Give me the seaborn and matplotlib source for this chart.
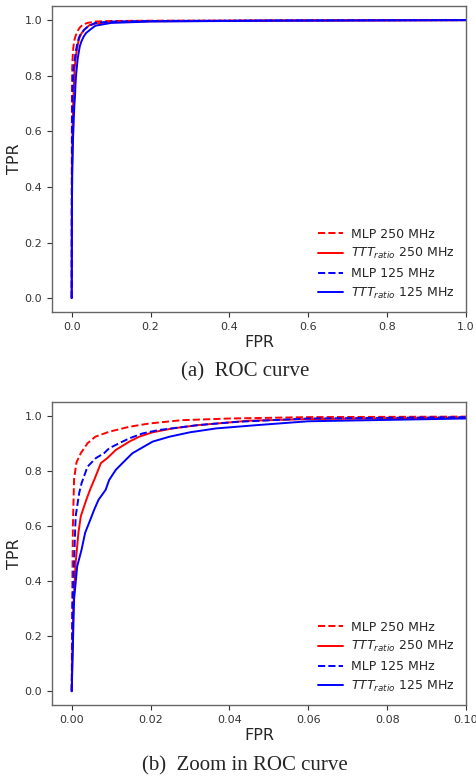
import numpy as np
import pandas as pd
import matplotlib
matplotlib.use('Agg')
import matplotlib.pyplot as plt
import seaborn as sns

sns.set_style('ticks')

# ROC points (FPR, TPR)
mlp250_fpr = [0, 0.0001, 0.0003, 0.0006, 0.0012, 0.0023, 0.004, 0.006, 0.0095, 0.0146, 0.0197, 0.028, 0.04, 0.06, 0.1, 0.2, 0.5, 1.0]
mlp250_tpr = [0, 0.30, 0.60, 0.77, 0.83, 0.864, 0.90, 0.924, 0.942, 0.96, 0.972, 0.984, 0.99, 0.995, 0.997, 0.998, 0.999, 1.0]

ttt250_fpr = [0, 0.0004, 0.001, 0.0017, 0.0023, 0.0037, 0.0048, 0.0057, 0.0074, 0.009, 0.0112, 0.0146, 0.0171, 0.0205, 0.0256, 0.032, 0.045, 0.06, 0.1, 0.2, 0.5, 1.0]
ttt250_tpr = [0, 0.30, 0.466, 0.575, 0.635, 0.695, 0.737, 0.767, 0.828, 0.846, 0.876, 0.906, 0.924, 0.94, 0.954, 0.966, 0.982, 0.988, 0.993, 0.996, 0.998, 1.0]

mlp125_fpr = [0, 0.0003, 0.001, 0.0019, 0.0025, 0.004, 0.0061, 0.0082, 0.0095, 0.012, 0.0146, 0.018, 0.022, 0.032, 0.042, 0.06, 0.1, 0.2, 0.5, 1.0]
mlp125_tpr = [0, 0.35, 0.635, 0.72, 0.755, 0.815, 0.846, 0.864, 0.882, 0.90, 0.918, 0.936, 0.948, 0.966, 0.978, 0.99, 0.995, 0.997, 0.999, 1.0]

ttt125_fpr = [0, 0.0006, 0.0014, 0.0025, 0.0034, 0.0044, 0.0057, 0.0068, 0.0086, 0.0095, 0.0112, 0.0137, 0.0154, 0.0205, 0.0248, 0.03, 0.0366, 0.047, 0.06, 0.1, 0.2, 0.5, 1.0]
ttt125_tpr = [0, 0.334, 0.454, 0.514, 0.575, 0.611, 0.659, 0.695, 0.731, 0.767, 0.804, 0.84, 0.864, 0.906, 0.924, 0.94, 0.954, 0.966, 0.98, 0.99, 0.995, 0.998, 1.0]

curves = [
    (mlp250_fpr, mlp250_tpr, 'red', '--', 'MLP 250 MHz'),
    (ttt250_fpr, ttt250_tpr, 'red', '-', r'$TTT_{ratio}$ 250 MHz'),
    (mlp125_fpr, mlp125_tpr, 'blue', '--', 'MLP 125 MHz'),
    (ttt125_fpr, ttt125_tpr, 'blue', '-', r'$TTT_{ratio}$ 125 MHz'),
]

fig = plt.figure(figsize=(4.77, 7.81), dpi=100)
ax1 = fig.add_axes([0.109, 0.6005, 0.868, 0.3915])
ax2 = fig.add_axes([0.109, 0.0973, 0.868, 0.3880])

for ax, xmax in [(ax1, 1.0), (ax2, 0.1)]:
    for fpr, tpr, col, ls, lab in curves:
        df = pd.DataFrame({'FPR': fpr, 'TPR': tpr})
        sns.lineplot(data=df, x='FPR', y='TPR', ax=ax, color=col, linestyle=ls,
                     label=lab, sort=False, estimator=None, linewidth=1.4)
    ax.set_xlim(-0.05 * xmax, xmax)
    ax.set_ylim(-0.05, 1.05)
    ax.set_xlabel('FPR', fontsize=11.5, labelpad=2)
    ax.set_ylabel('TPR', fontsize=11.5, labelpad=2)
    ax.tick_params(labelsize=8, length=3.5, width=0.8, colors='#333333')
    for s in ax.spines.values():
        s.set_color('#666666')
        s.set_linewidth(1.0)
    ax.legend(loc='lower right', frameon=False, fontsize=9, handlelength=2.0,
              labelspacing=0.45, borderaxespad=0.5, handletextpad=0.7)

ax1.set_xticks([0.0, 0.2, 0.4, 0.6, 0.8, 1.0])
ax2.set_xticks([0.0, 0.02, 0.04, 0.06, 0.08, 0.10])
ax2.set_xticklabels(['0.00', '0.02', '0.04', '0.06', '0.08', '0.10'])

fig.text(0.514, 1 - 372 / 781, '(a)  ROC curve', ha='center', va='center',
         fontsize=15, family='Liberation Serif')
fig.text(0.514, 1 - 766 / 781, '(b)  Zoom in ROC curve', ha='center', va='center',
         fontsize=15, family='Liberation Serif')

fig.savefig('out.png', dpi=100)
